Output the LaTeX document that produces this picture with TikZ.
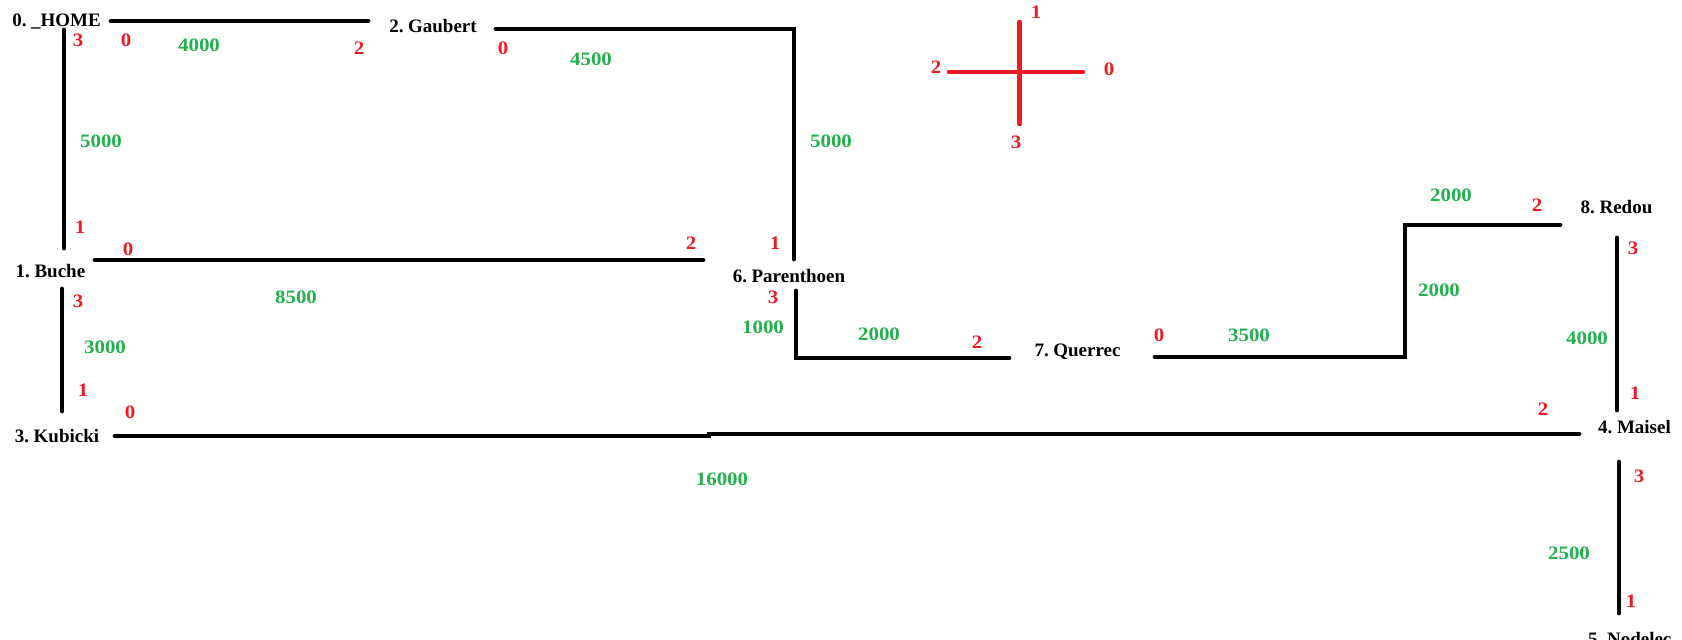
\documentclass[tikz,border=0pt]{standalone}
\usepackage{fontspec}
\setmainfont{Liberation Serif}
\newfontfamily\numfont{Liberation Serif}[FakeStretch=1.1]
\definecolor{pred}{RGB}{237,28,36}
\definecolor{pgreen}{RGB}{34,177,76}
\begin{document}
\begin{tikzpicture}[x=1pt,y=-1pt,
  station/.style={font=\fontsize{19}{22}\selectfont\bfseries, inner sep=0pt, text height=13pt, text depth=0pt,
    execute at begin node={\spaceskip=3pt\relax}},
  port/.style={font=\fontsize{19}{22}\selectfont\numfont\bfseries, text=pred, inner sep=0pt, text height=13pt, text depth=0pt},
  weight/.style={font=\fontsize{19}{22}\selectfont\numfont\bfseries, text=pgreen, inner sep=0pt, text height=13pt, text depth=0pt},
  link/.style={line width=4.8pt, line cap=round, line join=miter, black},
  compass/.style={line width=4.5pt, line cap=round, pred}]
\useasboundingbox (0,0) rectangle (1682,640);
\clip (0,0) rectangle (1682,640);
% stations
\node[station] (n0) at (56.5,20) {0. \_HOME};
\node[station] (n2) at (433,26) {2. Gaubert};
\node[station] (n1) at (50.5,271) {1. Buche};
\node[station] (n6) at (789,276) {6. Parenthoen};
\node[station] (n3) at (57,436) {3. Kubicki};
\node[station] (n7) at (1077.5,350) {7. Querrec};
\node[station] (n8) at (1616.5,207) {8. Redou};
\node[station] (n4) at (1634.5,427) {4. Maisel};
\node[station, anchor=west] (n5) at (1588,638.5) {5. Nodelec};
% connector end points
\coordinate (a0) at (111,21); \coordinate (a1) at (368,21);
\coordinate (b0) at (496,29); \coordinate (b1) at (794,29); \coordinate (b2) at (794,259);
\coordinate (c0) at (64,30); \coordinate (c1) at (64,248);
\coordinate (d0) at (95,260); \coordinate (d1) at (703,260);
\coordinate (e0) at (62,289); \coordinate (e1) at (62,411);
\coordinate (f0) at (115,436); \coordinate (f1) at (709,436); \coordinate (f2) at (709,434); \coordinate (f3) at (1579,434);
\coordinate (g0) at (796,291); \coordinate (g1) at (796,358); \coordinate (g2) at (1009,358);
\coordinate (h0) at (1155,357); \coordinate (h1) at (1405,357); \coordinate (h2) at (1405,225); \coordinate (h3) at (1560,225);
\coordinate (i0) at (1617,238); \coordinate (i1) at (1617,410);
\coordinate (j0) at (1619,462); \coordinate (j1) at (1619,613);
% connectors
\draw[link] (a0) -- (a1);
\draw[link] (b0) -- (b1) -- (b2);
\draw[link] (c0) -- (c1);
\draw[link] (d0) -- (d1);
\draw[link] (e0) -- (e1);
\draw[link] (f0) -- (f1) -- (f2) -- (f3);
\draw[link] (g0) -- (g1) -- (g2);
\draw[link] (h0) -- (h1) -- (h2) -- (h3);
\draw[link] (i0) -- (i1);
\draw[link] (j0) -- (j1);
% compass cross
\coordinate (xw) at (949,72); \coordinate (xe) at (1083,72);
\coordinate (xn) at (1019.5,22); \coordinate (xs) at (1019.5,124);
\draw[compass] (xw) -- (xe);
\draw[compass] (xn) -- (xs);
\node[port] (x1) at (1036,12) {1};
\node[port] (x2) at (936,67) {2};
\node[port] (x0) at (1109,69) {0};
\node[port] (x3) at (1016,142) {3};
% ports
\node[port] (p1) at (78,40) {3};
\node[port] (p2) at (126,40) {0};
\node[port] (p3) at (359,48) {2};
\node[port] (p4) at (503,48) {0};
\node[port] (p5) at (80,227) {1};
\node[port] (p6) at (128,249) {0};
\node[port] (p7) at (691,243) {2};
\node[port] (p8) at (775,243) {1};
\node[port] (p9) at (78,301) {3};
\node[port] (p10) at (83,390) {1};
\node[port] (p11) at (130,412) {0};
\node[port] (p12) at (773,297) {3};
\node[port] (p13) at (977,342) {2};
\node[port] (p14) at (1159,335) {0};
\node[port] (p15) at (1537,205) {2};
\node[port] (p16) at (1633,248) {3};
\node[port] (p17) at (1635,393) {1};
\node[port] (p18) at (1543,409) {2};
\node[port] (p19) at (1639,476) {3};
\node[port] (p20) at (1631,601) {1};
% weights
\node[weight] (w1) at (199,45) {4000};
\node[weight] (w2) at (591,59) {4500};
\node[weight] (w3) at (101,141) {5000};
\node[weight] (w4) at (831,141) {5000};
\node[weight] (w5) at (296,297) {8500};
\node[weight] (w6) at (105,347) {3000};
\node[weight] (w7) at (763,327) {1000};
\node[weight] (w8) at (879,334) {2000};
\node[weight] (w9) at (1249,335) {3500};
\node[weight] (w10) at (1451,195) {2000};
\node[weight] (w11) at (1439,290) {2000};
\node[weight] (w12) at (1587,338) {4000};
\node[weight] (w13) at (722,479) {16000};
\node[weight] (w14) at (1569,553) {2500};
\end{tikzpicture}
\end{document}
